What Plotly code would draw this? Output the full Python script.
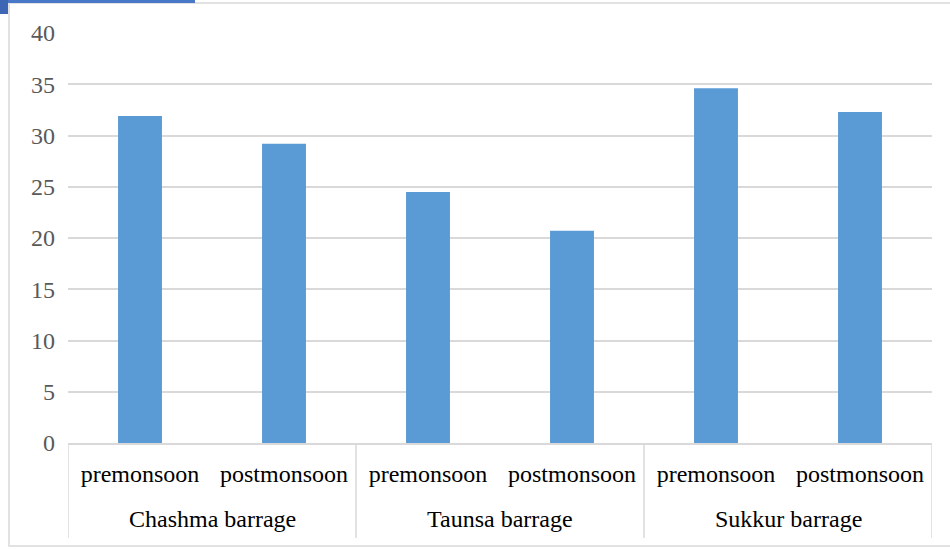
import plotly.graph_objects as go

# Values per barrage and season
groups = ["Chashma barrage", "Taunsa barrage", "Sukkur barrage"]
seasons = ["premonsoon", "postmonsoon"]
values = [31.9, 29.2, 24.5, 20.7, 34.6, 32.3]
y_ticks = [0, 5, 10, 15, 20, 25, 30, 35, 40]

SERIF = "Liberation Serif, Times New Roman, serif"
W, H = 950, 549
L, R, T, B = 68, 18, 33, 106
pw, ph = W - L - R, H - T - B


def px(x):
    return (x - L) / pw


def py(y):
    return (H - B - y) / ph


n_sub = len(seasons)
positions = list(range(len(values)))
tick_text = [seasons[i % n_sub] for i in positions]

fig = go.Figure(go.Bar(
    x=positions,
    y=values,
    marker=dict(color="#5b9bd5", line=dict(width=0)),
    width=0.305,
))

shapes = [
    # outer chart frame
    dict(type="rect", xref="paper", yref="paper",
         x0=px(9), x1=px(960), y0=py(546), y1=py(3),
         line=dict(color="#d9d9d9", width=1.5), fillcolor="rgba(0,0,0,0)",
         layer="below"),
    # banner strip at the top-left corner
    dict(type="rect", xref="paper", yref="paper",
         x0=px(0), x1=px(195), y0=py(3), y1=py(-2),
         line=dict(width=0), fillcolor="#4a78c8"),
    dict(type="rect", xref="paper", yref="paper",
         x0=px(0), x1=px(8), y0=py(14), y1=py(0),
         line=dict(width=0), fillcolor="#3d66b5"),
]
# group dividers below the axis
for g in range(len(groups) + 1):
    xb = g * n_sub - 0.5
    shapes.append(dict(type="line", xref="x", yref="paper",
                       x0=xb, x1=xb, y0=0, y1=py(538),
                       line=dict(color="#d9d9d9", width=1.5)))

annotations = []
for g, name in enumerate(groups):
    annotations.append(dict(
        x=g * n_sub + (n_sub - 1) / 2, xref="x",
        y=py(519), yref="paper", yanchor="middle",
        text=name, showarrow=False,
        font=dict(family=SERIF, size=24, color="#000000"),
    ))

fig.update_layout(
    width=W, height=H,
    margin=dict(l=L, r=R, t=T, b=B),
    paper_bgcolor="white",
    plot_bgcolor="white",
    showlegend=False,
    font=dict(family=SERIF, size=24, color="#000000"),
    xaxis=dict(
        range=[-0.5, len(values) - 0.5],
        tickvals=positions, ticktext=tick_text,
        showgrid=False, zeroline=False,
        showline=True, linecolor="#d9d9d9", linewidth=1.5,
        ticks="", ticklabelstandoff=8,
        tickfont=dict(family=SERIF, size=24, color="#000000"),
    ),
    yaxis=dict(
        range=[0, 40], tickvals=y_ticks,
        showgrid=True, gridcolor="#d9d9d9", gridwidth=1.5,
        zeroline=False, showline=False, ticks="",
        tickfont=dict(family=SERIF, size=24, color="#595959"),
        ticklabelstandoff=12,
    ),
    shapes=shapes,
    annotations=annotations,
)

fig.write_html("out.html")
